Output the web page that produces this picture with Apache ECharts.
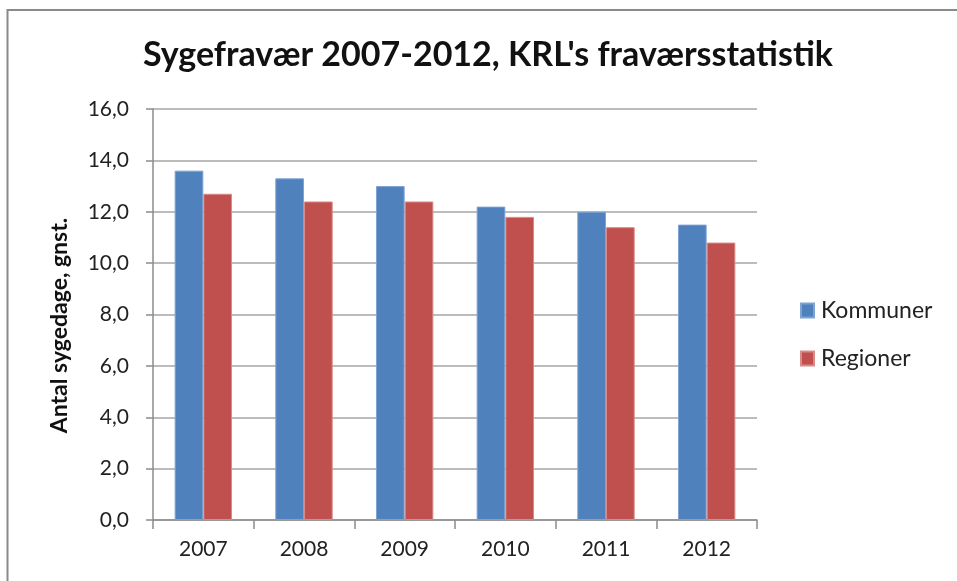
<!DOCTYPE html>
<html>
<head>
<meta charset="utf-8">
<script src="https://cdn.jsdelivr.net/npm/echarts@6/dist/echarts.min.js"></script>
<style>html,body{margin:0;padding:0;background:#fff}#c{width:957px;height:581px}</style>
</head>
<body>
<div id="c"></div>
<script>
var categories = ['2007', '2008', '2009', '2010', '2011', '2012'];
var kommuner = [13.6, 13.3, 13.0, 12.2, 12.0, 11.5];
var regioner = [12.7, 12.4, 12.4, 11.8, 11.4, 10.8];
var seriesNames = ['Kommuner', 'Regioner'];
var titleText = "Sygefravær 2007-2012, KRL's fraværsstatistik";
var yAxisName = 'Antal sygedage, gnst.';

var FONT = 'Lato, "Open Sans", sans-serif';
var chart = echarts.init(document.getElementById('c'), null, {renderer: 'canvas'});
chart.setOption({
  backgroundColor: '#ffffff',
  animation: false,
  graphic: [{
    type: 'rect',
    shape: {x: 7.5, y: 10, width: 1000, height: 700},
    style: {fill: 'none', stroke: '#8a8a8a', lineWidth: 2},
    silent: true, z: -1
  }],
  title: {
    text: titleText,
    left: 143,
    top: 38,
    padding: 0,
    textStyle: {fontFamily: FONT, fontSize: 34, fontWeight: 'bold', color: '#111'}
  },
  legend: {
    orient: 'vertical',
    left: 800,
    top: 299,
    padding: 0,
    itemWidth: 13,
    itemHeight: 14,
    itemGap: 25,
    icon: 'rect',
    textStyle: {fontFamily: FONT, fontSize: 23, color: '#222', padding: [0, 0, 0, 2]},
    data: seriesNames
  },
  grid: {left: 153, right: 200, top: 109, bottom: 61, containLabel: false},
  xAxis: {
    type: 'category',
    data: categories,
    axisLine: {lineStyle: {color: '#8c8c8c', width: 1.5}},
    axisTick: {show: true, length: 9, lineStyle: {color: '#8c8c8c', width: 1.5}},
    axisLabel: {margin: 19, fontFamily: FONT, fontSize: 21, color: '#222'}
  },
  yAxis: {
    type: 'value',
    min: 0, max: 16, interval: 2,
    name: yAxisName,
    nameLocation: 'middle',
    nameGap: 82,
    nameTextStyle: {fontFamily: FONT, fontSize: 23, fontWeight: 'bold', color: '#111', padding: [0, 22, 0, 0]},
    axisLine: {show: true, lineStyle: {color: '#8c8c8c', width: 1.5}},
    axisTick: {show: true, length: 7, lineStyle: {color: '#8c8c8c', width: 1.5}},
    axisLabel: {margin: 24, fontFamily: FONT, fontSize: 21, color: '#222',
      formatter: function (v) { return v.toFixed(1).replace('.', ','); }},
    splitLine: {lineStyle: {color: '#a6a6a6', width: 1.5}}
  },
  series: [{
    name: seriesNames[0], type: 'bar', data: kommuner,
    barGap: '0%', barCategoryGap: '43%',
    itemStyle: {color: '#4F81BD', borderColor: '#7ea3d3', borderWidth: 1}
  }, {
    name: seriesNames[1], type: 'bar', data: regioner,
    barGap: '0%', barCategoryGap: '43%',
    itemStyle: {color: '#C0504D', borderColor: '#d88b89', borderWidth: 1}
  }]
});
</script>
</body>
</html>
